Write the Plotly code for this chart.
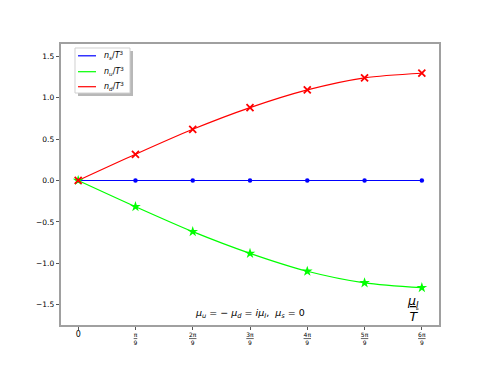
import numpy as np
import plotly.graph_objects as go

# x positions: mu_I / T
mu_I_over_T = [0.0, np.pi/9, 2*np.pi/9, 3*np.pi/9, 4*np.pi/9, 5*np.pi/9, 6*np.pi/9]
n_s = [0.0, 0.0, 0.0, 0.0, 0.0, 0.0, 0.0]
n_u = [0.0, -0.316, -0.618, -0.880, -1.096, -1.236, -1.294]
n_d = [0.0, 0.316, 0.618, 0.880, 1.094, 1.240, 1.295]

tick_labels = ["<span style='font-size:8px'>0</span>", "<u>π</u><br>9", "<u>2π</u><br>9", "<u>3π</u><br>9",
               "<u>4π</u><br>9", "<u>5π</u><br>9", "<u>6π</u><br>9"]
y_ticks = [-1.5, -1.0, -0.5, 0.0, 0.5, 1.0, 1.5]
y_labels = ["−1.5", "−1.0", "−0.5", "0.0", "0.5", "1.0", "1.5"]

series_names = ["<i>n<sub>s</sub></i>/<i>T</i><sup>3</sup>",
                "<i>n<sub>u</sub></i>/<i>T</i><sup>3</sup>",
                "<i>n<sub>d</sub></i>/<i>T</i><sup>3</sup>"]
series_vals = [n_s, n_u, n_d]
series_colors = ["#0000ff", "#00ff00", "#ff0000"]
series_symbols = ["circle", "star", "x-thin-open"]
series_sizes = [4.5, 8, 7]

fig = go.Figure()
for name, ys, col in zip(series_names, series_vals, series_colors):
    fig.add_trace(go.Scatter(x=mu_I_over_T, y=ys, mode="lines", name=name, showlegend=False,
                             line=dict(color=col, width=1.2, shape="spline", smoothing=0.8)))
for name, ys, col, sym, sz in zip(series_names, series_vals, series_colors, series_symbols, series_sizes):
    fig.add_trace(go.Scatter(x=mu_I_over_T, y=ys, mode="markers", showlegend=False,
                             marker=dict(symbol=sym, size=sz, color=col,
                                         line=dict(color=col, width=1.8 if sym.startswith("x") else 0))))

axis_common = dict(showgrid=False, zeroline=False, showline=True, linecolor="#a0a0a0", linewidth=1.5,
                   mirror=True, ticks="outside", ticklen=3.5, tickwidth=0.8, tickcolor="#555555")

fig.update_layout(
    width=480, height=358,
    margin=dict(l=53, r=49, t=36, b=41),
    paper_bgcolor="white", plot_bgcolor="white",
    font=dict(family="DejaVu Sans", color="black"),
    xaxis=dict(range=[-0.1047, 2.199], tickmode="array", tickvals=mu_I_over_T, ticktext=tick_labels,
               tickfont=dict(family="DejaVu Sans", size=6, color="black"), **axis_common),
    yaxis=dict(range=[-1.745, 1.648], tickmode="array", tickvals=y_ticks, ticktext=y_labels,
               tickfont=dict(family="DejaVu Sans", size=7.5, color="black"), **axis_common),
    showlegend=False,
)

# legend drawn as a framed box with shadow (matplotlib style)
fig.add_shape(type="rect", xref="paper", yref="paper", x0=0.045, x1=0.1905, y0=0.815, y1=0.975,
              fillcolor="#b8b8b8", line=dict(width=0), layer="above")
fig.add_shape(type="rect", xref="paper", yref="paper", x0=0.037, x1=0.1825, y0=0.8256, y1=0.9858,
              fillcolor="white", line=dict(color="#d0d0d0", width=1), layer="above")
legend_y = [0.958, 0.9014, 0.848]
for name, col, ly in zip(series_names, series_colors, legend_y):
    fig.add_shape(type="line", xref="paper", yref="paper", x0=0.045, x1=0.0926, y0=ly, y1=ly,
                  line=dict(color=col, width=1.2), layer="above")
    fig.add_annotation(x=0.1077, y=ly, xref="paper", yref="paper", showarrow=False, xanchor="left",
                       yanchor="middle", text=name, font=dict(family="DejaVu Sans", size=8, color="black"))

fig.add_annotation(x=0.5, y=0.04, xref="paper", yref="paper", showarrow=False, yanchor="middle",
                   text="<i>μ<sub>u</sub></i> = − <i>μ<sub>d</sub></i> = <i>iμ<sub>I</sub></i>,  <i>μ<sub>s</sub></i> = 0",
                   font=dict(family="DejaVu Sans", size=9.5, color="black"))
fig.add_annotation(x=0.953, y=0.06, xref="paper", yref="paper", showarrow=False, yanchor="middle",
                   text="<u><i>μ<sub>I</sub></i></u><br><i>T</i>",
                   font=dict(family="DejaVu Sans", size=12.5, color="black"))

fig.write_html("out.html")
